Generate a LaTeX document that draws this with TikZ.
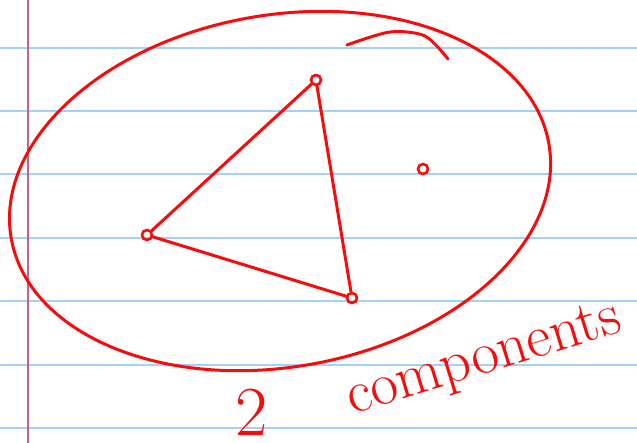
\documentclass[tikz,border=0pt]{standalone}
\usepackage{xcolor}
\usepackage{tikz}
\usetikzlibrary{positioning}
\definecolor{inkred}{RGB}{250,10,10}
\definecolor{ruleblue}{RGB}{165,208,250}
\definecolor{marginpink}{RGB}{195,100,135}
\tikzset{
  ink/.style={draw=inkred, line width=1.7pt, line cap=round, line join=round},
  vert/.style={circle, draw=inkred, line width=1.5pt, minimum size=0.2cm, inner sep=0pt},
  link/.style={ink},
  rule/.style={draw=ruleblue, line width=1.1pt},
  scrawl/.style={text=inkred, inner sep=0pt}
}

\begin{document}
\begin{tikzpicture}[x=0.02cm, y=-0.02cm]
    \useasboundingbox[fill=white] (0,0) rectangle (637,443);

    % Ruled paper
    \foreach \y in {48,111,174,238,301,365,428}
      \draw[rule] (0,\y) -- (637,\y);
    \draw[draw=marginpink, line width=1.1pt] (28,0) -- (28,443);

    % Outer loop
    \coordinate (mid) at (280,191);
    \draw[ink, rotate around={10:(mid)}] (mid) ellipse [x radius=5.46cm, y radius=3.52cm];
    \draw[ink] plot[smooth] coordinates {(347,45) (390,32) (425,36) (448,59)};

    % Vertices
    \node[vert] (top)    at (316,80)  {};
    \node[vert] (left)   at (147,235) {};
    \node[vert] (bottom) at (352,298) {};
    \node[vert] (lone)   at (423,169) {};

    % Edges
    \draw[link] (top) -- (left);
    \draw[link] (left) -- (bottom);
    \draw[link] (top) -- (bottom);

    % Label
    \node[scrawl, anchor=base] (two) at (252,435) {\fontsize{40}{40}\selectfont 2};
    \node[scrawl, anchor=base, rotate=17] (comp) at (488,373)
      {\fontsize{34}{34}\selectfont components};
\end{tikzpicture}
\end{document}
